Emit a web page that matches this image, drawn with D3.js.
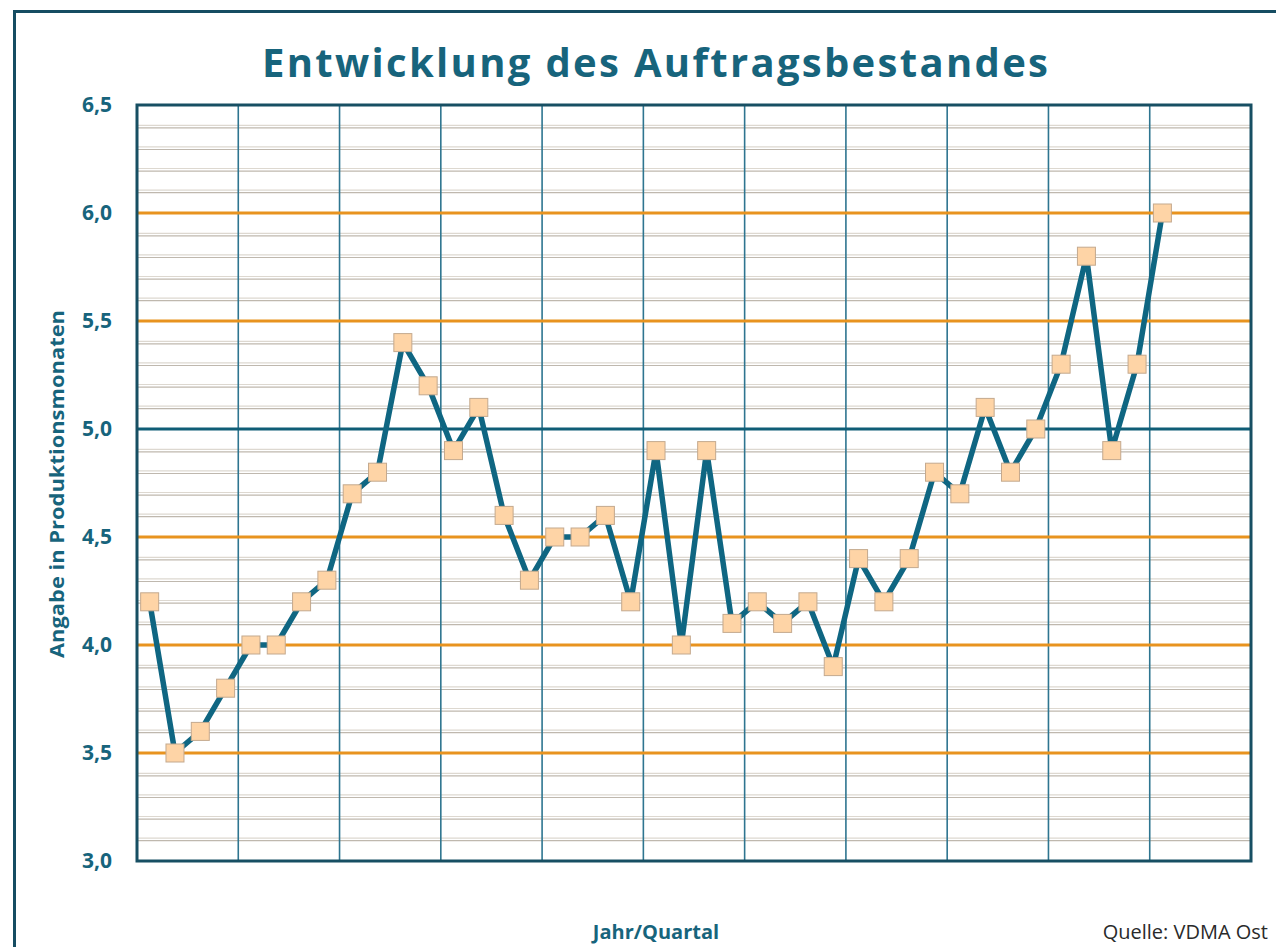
<!DOCTYPE html>
<html>
<head>
<meta charset="utf-8">
<script src="https://cdn.jsdelivr.net/npm/d3@7"></script>
<style>
  html, body { margin: 0; padding: 0; background: #fff; }
  svg { display: block; }
</style>
</head>
<body>
<div id="chart"></div>
<script>
// Auftragsbestand je Quartal (Produktionsmonate)
const values = [4.2, 3.5, 3.6, 3.8, 4.0, 4.0, 4.2, 4.3, 4.7, 4.8, 5.4, 5.2, 4.9, 5.1, 4.6, 4.3,
  4.5, 4.5, 4.6, 4.2, 4.9, 4.0, 4.9, 4.1, 4.2, 4.1, 4.2, 3.9, 4.4, 4.2, 4.4, 4.8,
  4.7, 5.1, 4.8, 5.0, 5.3, 5.8, 4.9, 5.3, 6.0];
const slotCount = 44;            // 11 Jahre x 4 Quartale
const yearCount = 11;
const majorTicks = [3.0, 3.5, 4.0, 4.5, 5.0, 5.5, 6.0, 6.5];
const minorTicks = d3.range(30, 66).filter(v => v % 5 !== 0).map(v => v / 10);

const W = 1276, H = 947;
const margin = { left: 137, right: 25, top: 105, bottom: 86 };

const svg = d3.select('#chart').append('svg')
  .attr('width', W)
  .attr('height', H);

// outer frame (left + top only visible)
svg.append('path')
  .attr('d', `M14.5,${H} L14.5,11.5 L${W},11.5`)
  .attr('fill', 'none')
  .attr('stroke', '#164d62')
  .attr('stroke-width', 3);

const x = d3.scaleBand()
  .domain(d3.range(slotCount))
  .range([margin.left, W - margin.right]);

const y = d3.scaleLinear()
  .domain([3.0, 6.5])
  .range([H - margin.bottom, margin.top]);

const g = svg.append('g');

// minor grid (double grey lines)
minorTicks.forEach(v => {
  g.append('line')
    .attr('x1', x.range()[0]).attr('x2', x.range()[1])
    .attr('y1', y(v) - 1.3).attr('y2', y(v) - 1.3)
    .attr('stroke', '#ddd8d0').attr('stroke-width', 1.2);
  g.append('line')
    .attr('x1', x.range()[0]).attr('x2', x.range()[1])
    .attr('y1', y(v) + 1.3).attr('y2', y(v) + 1.3)
    .attr('stroke', '#bfb8ae').attr('stroke-width', 1.2);
});

// vertical year lines
const yearX = d3.range(1, yearCount).map(i => x(i * 4));
g.selectAll('.vline')
  .data(yearX)
  .join('line')
  .attr('x1', d => d).attr('x2', d => d)
  .attr('y1', y(6.5)).attr('y2', y(3.0))
  .attr('stroke', '#2e7590')
  .attr('stroke-width', 1.6);

// major horizontal lines
g.selectAll('.hline')
  .data(majorTicks.filter(v => v > 3.0 && v < 6.5))
  .join('line')
  .attr('x1', x.range()[0]).attr('x2', x.range()[1])
  .attr('y1', d => y(d)).attr('y2', d => y(d))
  .attr('stroke', d => d === 5.0 ? '#0f5d76' : '#e8931f')
  .attr('stroke-width', 3);

// plot border
g.append('rect')
  .attr('x', x.range()[0]).attr('y', y(6.5))
  .attr('width', x.range()[1] - x.range()[0])
  .attr('height', y(3.0) - y(6.5))
  .attr('fill', 'none')
  .attr('stroke', '#174f63')
  .attr('stroke-width', 3);

// y axis labels
const yAxis = svg.append('g')
  .attr('transform', `translate(${margin.left},0)`)
  .call(d3.axisLeft(y).tickValues(majorTicks).tickSize(0).tickPadding(25)
    .tickFormat(d => d3.format('.1f')(d).replace('.', ',')));
yAxis.select('.domain').remove();
yAxis.selectAll('text')
  .attr('fill', '#17647c')
  .attr('font-family', '"Open Sans", sans-serif')
  .attr('font-weight', 700)
  .attr('font-size', 21);

// line
const cx = i => x(i) + x.bandwidth() / 2;
svg.append('path')
  .datum(values)
  .attr('fill', 'none')
  .attr('stroke', '#0f6682')
  .attr('stroke-width', 5.5)
  .attr('stroke-linejoin', 'round')
  .attr('d', d3.line().x((d, i) => cx(i)).y(d => y(d)));

// markers
const ms = 18;
svg.append('g')
  .selectAll('rect')
  .data(values)
  .join('rect')
  .attr('x', (d, i) => cx(i) - ms / 2)
  .attr('y', d => y(d) - ms / 2)
  .attr('width', ms).attr('height', ms)
  .attr('fill', '#fed4a6')
  .attr('stroke', '#c4a98e')
  .attr('stroke-width', 1);

// title
svg.append('text')
  .attr('x', 262).attr('y', 77)
  .attr('textLength', 786)
  .attr('lengthAdjust', 'spacing')
  .attr('fill', '#17647c')
  .attr('font-family', '"Open Sans", sans-serif')
  .attr('font-weight', 700)
  .attr('font-size', 40)
  .text('Entwicklung des Auftragsbestandes');

// axis titles
svg.append('text')
  .attr('transform', 'translate(64,484) rotate(-90)')
  .attr('text-anchor', 'middle')
  .attr('fill', '#17647c')
  .attr('font-family', '"Open Sans", sans-serif')
  .attr('font-weight', 700)
  .attr('font-size', 19)
  .attr('textLength', 348)
  .attr('lengthAdjust', 'spacingAndGlyphs')
  .text('Angabe in Produktionsmonaten');

svg.append('text')
  .attr('x', 656).attr('y', 939)
  .attr('text-anchor', 'middle')
  .attr('fill', '#17647c')
  .attr('font-family', '"Open Sans", sans-serif')
  .attr('font-weight', 700)
  .attr('font-size', 20)
  .text('Jahr/Quartal');

svg.append('text')
  .attr('x', 1268).attr('y', 939)
  .attr('text-anchor', 'end')
  .attr('fill', '#2a2a2a')
  .attr('font-family', '"Open Sans", sans-serif')
  .attr('font-size', 20)
  .text('Quelle: VDMA Ost');
</script>
</body>
</html>
